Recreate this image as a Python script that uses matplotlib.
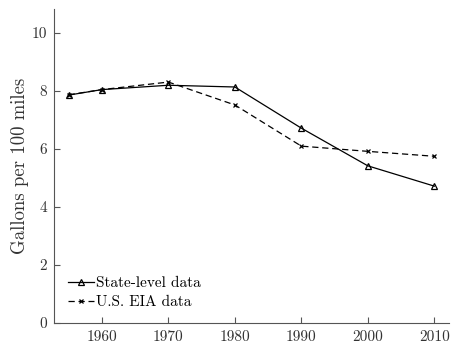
import matplotlib
matplotlib.use("Agg")
import matplotlib.pyplot as plt

plt.rcParams["font.family"] = "cmr10"
plt.rcParams["mathtext.fontset"] = "cm"
plt.rcParams["axes.formatter.use_mathtext"] = True

years = [1955, 1960, 1970, 1980, 1990, 2000, 2010]
state_level = [7.86, 8.05, 8.2, 8.14, 6.72, 5.42, 4.72]
eia = [7.87, 8.05, 8.31, 7.52, 6.1, 5.92, 5.75]
xticks = [1960, 1970, 1980, 1990, 2000, 2010]
yticks = [0, 2, 4, 6, 8, 10]

fig = plt.figure(figsize=(4.51, 3.47), dpi=100)
ax = fig.add_axes([54 / 451, 24 / 347, 395 / 451, 314 / 347])

ax.plot(years, state_level, "-", color="black", lw=0.9, marker="^",
        markersize=5, markerfacecolor="none", markeredgewidth=0.9,
        label="State-level data")
ax.plot(years, eia, "--", color="black", lw=0.9, marker="x",
        markersize=3, markeredgewidth=0.9, dashes=(5, 3),
        label="U.S. EIA data")

ax.set_xlim(1952.8, 2012.2)
ax.set_ylim(0, 10.83)
ax.set_xticks(xticks)
ax.set_yticks(yticks)
ax.set_xticklabels([str(t) for t in xticks])
ax.set_yticklabels([str(t) for t in yticks])
ax.set_ylabel("Gallons per 100 miles", fontsize=13.5, color="#333333",
              labelpad=1.5)

for s in ["top", "right"]:
    ax.spines[s].set_visible(False)
for s in ["left", "bottom"]:
    ax.spines[s].set_color("#555555")
ax.tick_params(direction="in", length=4, colors="#555555", labelsize=11,
               labelcolor="#333333", pad=5)

ax.legend(loc="lower left", bbox_to_anchor=(0.0, 0.0), frameon=False,
          fontsize=11, handlelength=1.7, handletextpad=0.15,
          labelspacing=0.35, borderaxespad=0.5)

fig.savefig("out.png", dpi=100)
